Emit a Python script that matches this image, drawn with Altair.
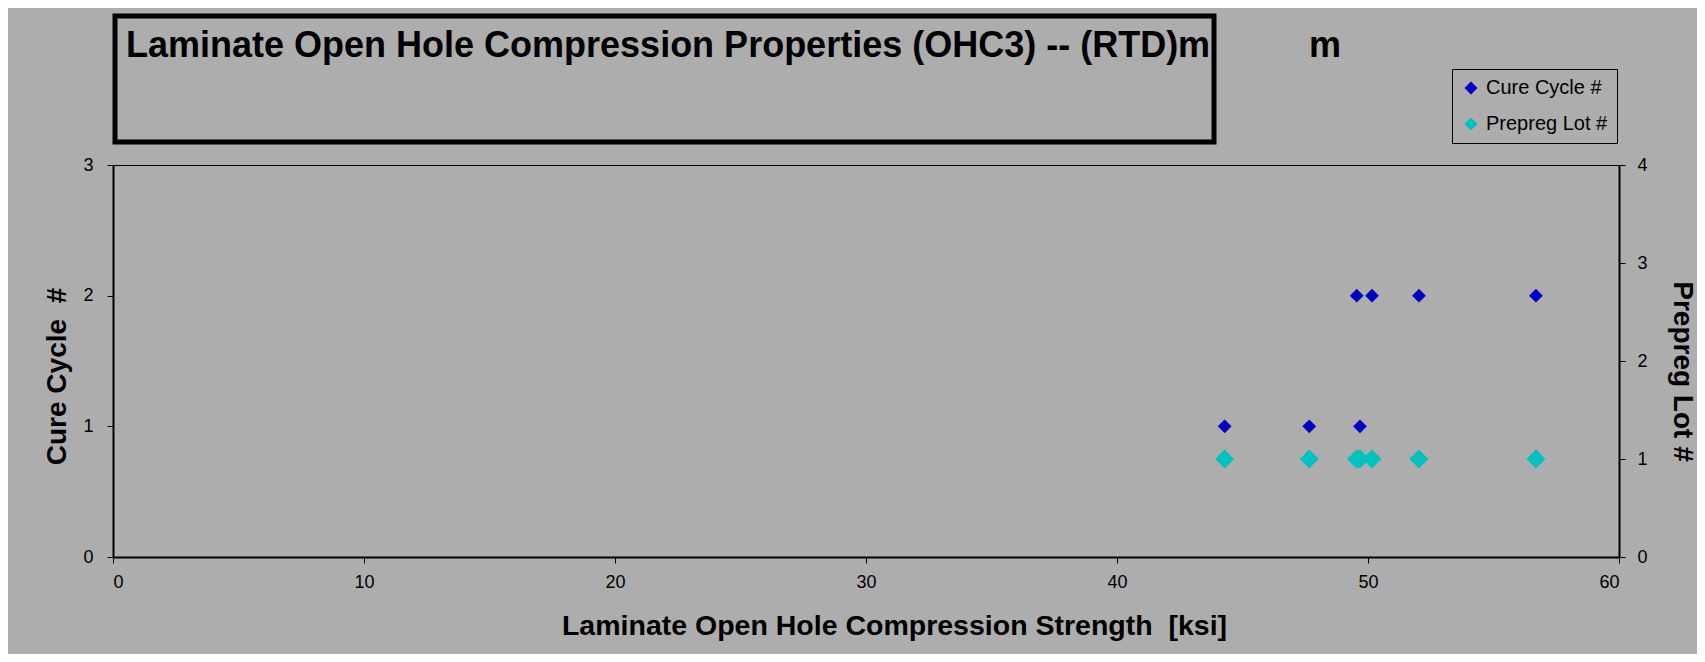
import altair as alt
import pandas as pd

# ---- data ----
strength = [44.29, 47.66, 49.55, 49.68, 50.16, 52.03, 56.69]
cure_cycle = [1, 1, 2, 1, 2, 2, 2]
prepreg_lot = [1, 1, 1, 1, 1, 1, 1]

series_names = ["Cure Cycle #", "Prepreg Lot #"]
series_colors = ["#0000C0", "#00C0C0"]

x_ticks = [0, 10, 20, 30, 40, 50, 60]
y1_ticks = [0, 1, 2, 3]
y2_ticks = [0, 1, 2, 3, 4]

title_text = "Laminate Open Hole Compression Properties (OHC3) -- (RTD)m"
title_extra = "m"
x_title = "Laminate Open Hole Compression Strength\u00a0 [ksi]"
y1_title = "Cure Cycle\u00a0 #"
y2_title = "Prepreg Lot #"

FONT = "Liberation Sans"
BG = "#ADADAD"

df = pd.DataFrame({"strength": strength, "cure": cure_cycle, "lot": prepreg_lot})
one = pd.DataFrame({"k": [0]})

color_scale = alt.Scale(domain=series_names, range=series_colors)

x_enc = alt.X(
    "strength:Q",
    scale=alt.Scale(domain=[0, 60], nice=False, zero=True),
    axis=alt.Axis(
        values=x_ticks, title=x_title, grid=False,
        labelFontSize=18, labelFont=FONT, labelColor="black", labelPadding=10,
        tickSize=6, tickColor="black", domainColor="black", domainWidth=2,
        titleFont=FONT, titleFontSize=28.5, titleFontWeight="bold", titleColor="black",
        titleX=781, titleY=77, titleBaseline="alphabetic", titleAlign="center",
    ),
)

cure_layer = (
    alt.Chart(df)
    .transform_calculate(series="'Cure Cycle #'")
    .mark_point(shape="diamond", filled=True, size=190, opacity=1)
    .encode(
        x=x_enc,
        y=alt.Y(
            "cure:Q",
            scale=alt.Scale(domain=[0, 3], nice=False),
            axis=alt.Axis(
                values=y1_ticks, title=y1_title, grid=False, orient="left",
                labelFontSize=18, labelFont=FONT, labelColor="black", labelPadding=14,
                tickSize=6, tickColor="black", domainColor="black", domainWidth=2,
                titleFont=FONT, titleFontSize=28, titleFontWeight="bold", titleColor="black",
                titleAngle=270, titleX=-48, titleY=211, titleBaseline="alphabetic",
                titleAlign="center",
            ),
        ),
        color=alt.Color(
            "series:N", scale=color_scale,
            legend=alt.Legend(
                title=None, orient="none", legendX=1339, legendY=-96,
                symbolType="diamond", symbolSize=170, symbolStrokeWidth=0,
                labelFont=FONT, labelFontSize=20, labelColor="black", labelOffset=5,
                padding=9, rowPadding=16, strokeColor="black",
            ),
        ),
    )
)

lot_layer = (
    alt.Chart(df)
    .transform_calculate(series="'Prepreg Lot #'")
    .mark_point(shape="diamond", filled=True, size=360, opacity=1)
    .encode(
        x=alt.X("strength:Q"),
        y=alt.Y(
            "lot:Q",
            scale=alt.Scale(domain=[0, 4], nice=False),
            axis=alt.Axis(
                values=y2_ticks, title=y2_title, grid=False, orient="right",
                labelFontSize=18, labelFont=FONT, labelColor="black", labelPadding=12,
                tickSize=6, tickColor="black", domainColor="black", domainWidth=2,
                titleFont=FONT, titleFontSize=28, titleFontWeight="bold", titleColor="black",
                titleAngle=90, titleX=54, titleY=206, titleBaseline="alphabetic",
                titleAlign="center",
            ),
        ),
        color=alt.Color("series:N", scale=color_scale),
    )
)

title_box = alt.Chart(one).mark_rect(fill=None, stroke="black", strokeWidth=5).encode(
    x=alt.value(2), x2=alt.value(1101), y=alt.value(-149), y2=alt.value(-23)
)
title_mark = alt.Chart(one).mark_text(
    text=title_text, align="left", baseline="alphabetic", font=FONT,
    fontSize=36, fontWeight="bold", color="black",
).encode(x=alt.value(13), y=alt.value(-108))
title_mark2 = alt.Chart(one).mark_text(
    text=title_extra, align="left", baseline="alphabetic", font=FONT,
    fontSize=36, fontWeight="bold", color="black",
).encode(x=alt.value(1196), y=alt.value(-108))

chart = (
    alt.layer(cure_layer, lot_layer, title_box, title_mark, title_mark2)
    .resolve_scale(y="independent")
    .properties(
        width=1506, height=392,
        autosize=alt.AutoSizeParams(type="none"),
        padding={"left": 105, "top": 157, "right": 78, "bottom": 97},
        background=BG,
    )
    .configure_view(stroke="black", strokeWidth=1, fill=BG)
)

chart.save("out.html", embed_options={"renderer": "svg", "actions": False})
